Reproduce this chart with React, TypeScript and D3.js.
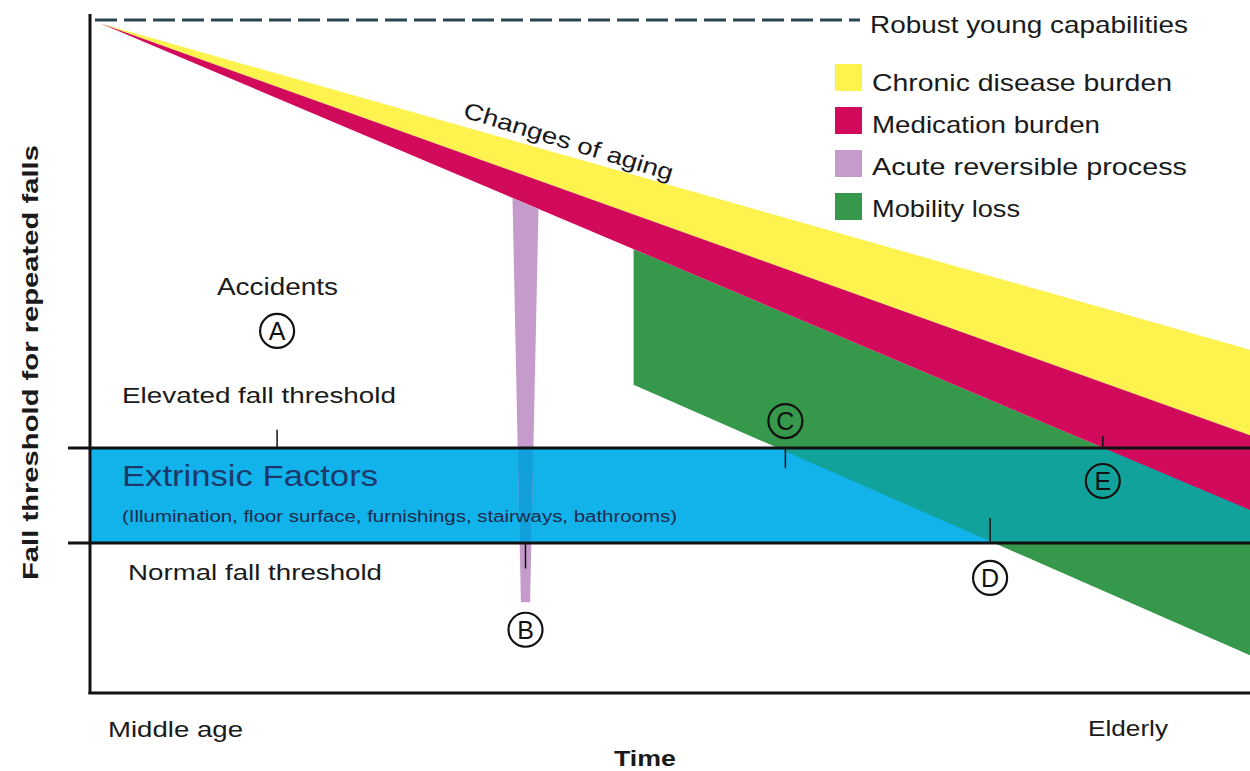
import React from "react";
import * as d3 from "d3";

// ---- Data (in chart units: time 0 = middle age .. 100 = elderly; threshold 0..100) ----
const timeDomain: [number, number] = [0, 100];
const thresholdDomain: [number, number] = [0, 100];
const robustLevel = 100;
const agingStart: [number, number] = [0, 99.5];
// right-edge levels of the aging wedge boundaries
const chronicTopEnd = 51.0;
const medicationTopEnd = 38.3;
const medicationBottomEnd = 27.2;
// mobility loss band
const mobilityStart = 46.4;
const mobilityBottom: [number, number][] = [[46.4, 45.8], [100, 5.6]];
// acute reversible process spike
const acuteTime = 37.0;
const acuteTopWidth = 2.26;
const acuteBottomWidth = 0.8;
const acuteBottomLevel = 13.5;
// thresholds
const elevatedThreshold = 36.4;
const normalThreshold = 22.3;

const markers = [
  { label: "A", t: 15.4, v: 53.8 },
  { label: "B", t: 37.0, v: 9.4 },
  { label: "C", t: 59.6, v: 40.4 },
  { label: "D", t: 77.4, v: 17.1 },
  { label: "E", t: 87.2, v: 31.5 },
];
const markerTicks = [
  { t: 15.4, v0: 36.4, v1: 39.1 },
  { t: 37.0, v0: 22.3, v1: 18.5 },
  { t: 59.6, v0: 36.4, v1: 33.4 },
  { t: 77.4, v0: 22.3, v1: 26.0 },
  { t: 87.2, v0: 36.4, v1: 38.2 },
];

const legendItems = [
  { label: "Chronic disease burden", color: "#fdf24e", len: 300 },
  { label: "Medication burden", color: "#d20a5c", len: 228 },
  { label: "Acute reversible process", color: "#c59bcc", len: 315 },
  { label: "Mobility loss", color: "#36984a", len: 148 },
];

const COLORS = {
  yellow: "#fdf24e",
  magenta: "#d20a5c",
  lilac: "#c59bcc",
  green: "#36984a",
  blue: "#12b2ea",
  teal: "#12a29c",
  dash: "#2b4752",
};

const W = 1250;
const H = 771;
const FONT = "'Liberation Sans', Arial, Helvetica, sans-serif";
const INK = "#1a1a1a";

export default function App() {
  const x = d3.scaleLinear().domain(timeDomain).range([100, 1250]);
  const y = d3.scaleLinear().domain(thresholdDomain).range([693, 20]);

  const lineAt = (end: number) => (t: number) =>
    agingStart[1] + ((end - agingStart[1]) * (t - agingStart[0])) / (timeDomain[1] - agingStart[0]);
  const chronicTop = lineAt(chronicTopEnd);
  const medTop = lineAt(medicationTopEnd);
  const medBottom = lineAt(medicationBottomEnd);

  const poly = d3.line<[number, number]>().x((d) => x(d[0])).y((d) => y(d[1]));
  const tEnd = timeDomain[1];

  const yellowPts: [number, number][] = [agingStart, [tEnd, chronicTop(tEnd)], [tEnd, medTop(tEnd)]];
  const magentaPts: [number, number][] = [agingStart, [tEnd, medTop(tEnd)], [tEnd, medBottom(tEnd)]];
  const greenPts: [number, number][] = [
    [mobilityStart, medBottom(mobilityStart)],
    [tEnd, medBottom(tEnd)],
    mobilityBottom[1],
    mobilityBottom[0],
  ];
  const acutePts: [number, number][] = [
    [acuteTime - acuteTopWidth / 2, medBottom(acuteTime - acuteTopWidth / 2)],
    [acuteTime + acuteTopWidth / 2, medBottom(acuteTime + acuteTopWidth / 2)],
    [acuteTime + acuteBottomWidth / 2, acuteBottomLevel],
    [acuteTime - acuteBottomWidth / 2, acuteBottomLevel],
  ];

  const axisX = x(0) - 10;
  const bandTop = y(elevatedThreshold);
  const bandBottom = y(normalThreshold);

  return (
    <svg
      width={W}
      height={H}
      style={{ position: "absolute", left: 0, top: 0, background: "#fff" }}
      fontFamily={FONT}
    >
      <defs>
        <clipPath id="bandClip">
          <rect x={axisX} y={bandTop} width={W - axisX} height={bandBottom - bandTop} />
        </clipPath>
      </defs>
      <rect width={W} height={H} fill="#fff" />

      {/* robust young capabilities */}
      <line
        x1={axisX + 5}
        x2={860}
        y1={y(robustLevel)}
        y2={y(robustLevel)}
        stroke={COLORS.dash}
        strokeWidth={3}
        strokeDasharray="22 7"
      />

      {/* mobility loss */}
      <path d={poly(greenPts) + "Z"} fill={COLORS.green} />
      {/* extrinsic factors band */}
      <rect x={axisX} y={bandTop} width={W - axisX} height={bandBottom - bandTop} fill={COLORS.blue} />
      <path d={poly(greenPts) + "Z"} fill={COLORS.teal} clipPath="url(#bandClip)" />

      {/* aging wedge */}
      <path d={poly(yellowPts) + "Z"} fill={COLORS.yellow} />
      <path d={poly(magentaPts) + "Z"} fill={COLORS.magenta} />

      {/* acute spike */}
      <path d={poly(acutePts) + "Z"} fill={COLORS.lilac} />
      <path d={poly(acutePts) + "Z"} fill="#12a0dc" clipPath="url(#bandClip)" />

      {/* band texts */}
      <text x={122} y={486} fontSize={29} fill="#1b3a6b" textLength={256} lengthAdjust="spacingAndGlyphs">
        Extrinsic Factors
      </text>
      <text x={122} y={522} fontSize={16} fill="#1c2a4a" textLength={555} lengthAdjust="spacingAndGlyphs">
        (Illumination, floor surface, furnishings, stairways, bathrooms)
      </text>

      {/* threshold lines */}
      <line x1={68} x2={W} y1={bandTop} y2={bandTop} stroke="#111" strokeWidth={3} />
      <line x1={68} x2={W} y1={bandBottom} y2={bandBottom} stroke="#111" strokeWidth={3} />

      {/* marker ticks */}
      {markerTicks.map((m, i) => (
        <line key={i} x1={x(m.t)} x2={x(m.t)} y1={y(m.v0)} y2={y(m.v1)} stroke="#111" strokeWidth={1.5} />
      ))}

      {/* circled markers */}
      {markers.map((m) => (
        <g key={m.label} transform={`translate(${x(m.t)},${y(m.v)})`}>
          <circle r={17} fill="none" stroke="#111" strokeWidth={2.2} />
          <text textAnchor="middle" dy="0.36em" fontSize={25} fill="#111">
            {m.label}
          </text>
        </g>
      ))}

      {/* axes */}
      <line x1={axisX} x2={axisX} y1={14} y2={694} stroke="#111" strokeWidth={3} />
      <line x1={axisX - 1.5} x2={W} y1={693} y2={693} stroke="#111" strokeWidth={3} />

      {/* annotation texts */}
      <text x={217} y={295} fontSize={23} fill={INK} textLength={121} lengthAdjust="spacingAndGlyphs">
        Accidents
      </text>
      <text x={122} y={403} fontSize={22} fill={INK} textLength={274} lengthAdjust="spacingAndGlyphs">
        Elevated fall threshold
      </text>
      <text x={128} y={580} fontSize={22} fill={INK} textLength={254} lengthAdjust="spacingAndGlyphs">
        Normal fall threshold
      </text>
      <text
        transform="translate(462,117) rotate(17)"
        fontSize={23}
        fill={INK}
        textLength={218}
        lengthAdjust="spacingAndGlyphs"
      >
        Changes of aging
      </text>

      {/* legend */}
      <text x={870} y={33} fontSize={24} fill={INK} textLength={318} lengthAdjust="spacingAndGlyphs">
        Robust young capabilities
      </text>
      {legendItems.map((d, i) => (
        <g key={d.label}>
          <rect x={835} y={64 + i * 43} width={27} height={27} fill={d.color} />
          <text x={872} y={91 + i * 42} fontSize={24} fill={INK} textLength={d.len} lengthAdjust="spacingAndGlyphs">
            {d.label}
          </text>
        </g>
      ))}

      {/* axis labels */}
      <text x={108} y={737} fontSize={22} fill={INK} textLength={135} lengthAdjust="spacingAndGlyphs">
        Middle age
      </text>
      <text x={1088} y={736} fontSize={22} fill={INK} textLength={80} lengthAdjust="spacingAndGlyphs">
        Elderly
      </text>
      <text x={614} y={766} fontSize={22} fontWeight="bold" fill={INK} textLength={62} lengthAdjust="spacingAndGlyphs">
        Time
      </text>
      <text
        transform="translate(38,580) rotate(-90)"
        fontSize={22}
        fontWeight="bold"
        fill={INK}
        textLength={435}
        lengthAdjust="spacingAndGlyphs"
      >
        Fall threshold for repeated falls
      </text>
    </svg>
  );
}
